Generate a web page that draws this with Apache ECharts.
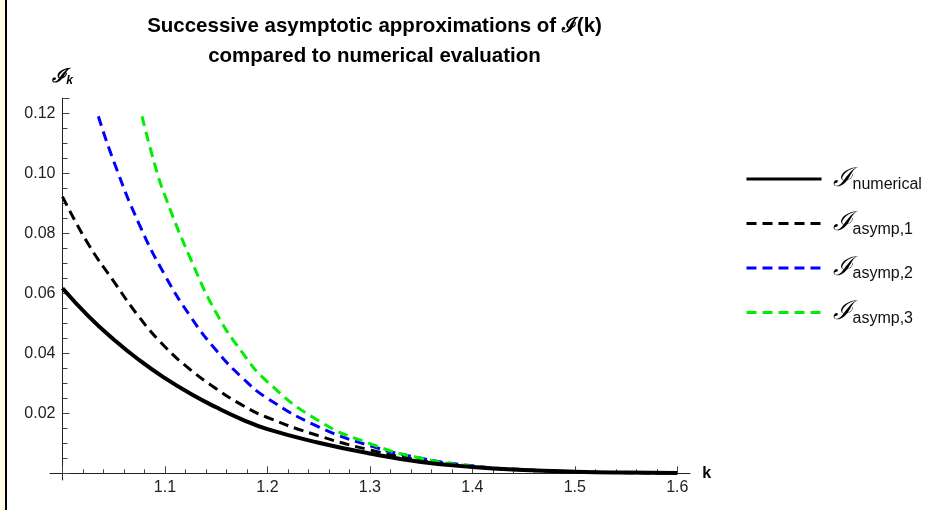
<!DOCTYPE html>
<html>
<head>
<meta charset="utf-8">
<script src="https://cdn.jsdelivr.net/npm/echarts@6/dist/echarts.min.js"></script>
<style>
html,body{margin:0;padding:0;background:#fff;}
#c{width:928px;height:510px;}
</style>
</head>
<body>
<div id="c"></div>
<script>
// ---- data ----
const titleLine1 = 'Successive asymptotic approximations of ℐ(k)';
const titleLine2 = 'compared to numerical evaluation';
const xTicks = [1.1, 1.2, 1.3, 1.4, 1.5, 1.6];
const yTicks = [0.02, 0.04, 0.06, 0.08, 0.10, 0.12];

const kGrid = [1.0, 1.025, 1.05, 1.075, 1.1, 1.125, 1.15, 1.175, 1.2, 1.25, 1.3, 1.35, 1.4, 1.45, 1.5, 1.55, 1.6];
const numerical = [0.0617, 0.0525, 0.0446, 0.0377, 0.0317, 0.0265, 0.0220, 0.0180, 0.0147, 0.0102, 0.0066, 0.0038, 0.0021, 0.0011, 0.00055, 0.00025, 0.0001];
const asymp1 = [0.0922, 0.0765, 0.0640, 0.0520, 0.0422, 0.0345, 0.0282, 0.0228, 0.0186, 0.0125, 0.0078, 0.0043, 0.0022, 0.0011, 0.0005, 0.0002, 0.0001];

const kAsymp2 = [1.035, 1.05, 1.075, 1.1, 1.125, 1.15, 1.175, 1.2, 1.25, 1.3, 1.35, 1.4, 1.45, 1.5, 1.55, 1.6];
const asymp2 = [0.119, 0.104, 0.0829, 0.0660, 0.0522, 0.0410, 0.0320, 0.0250, 0.0155, 0.0092, 0.0050, 0.0025, 0.0012, 0.0005, 0.0002, 0.0001];

const kAsymp3 = [1.0776, 1.09, 1.1, 1.125, 1.15, 1.175, 1.2, 1.25, 1.3, 1.35, 1.4, 1.45, 1.5, 1.55, 1.6];
const asymp3 = [0.119, 0.103, 0.0925, 0.0715, 0.0535, 0.0405, 0.0305, 0.0175, 0.0099, 0.0050, 0.0024, 0.0012, 0.0005, 0.0002, 0.0001];

const seriesNames = ['numerical', 'asymp,1', 'asymp,2', 'asymp,3'];
const seriesColors = ['#000000', '#000000', '#0000ff', '#00ee00'];

// ---- chart ----
const pairs = (xs, ys) => xs.map((x, i) => [x, ys[i]]);
const chart = echarts.init(document.getElementById('c'), null, {renderer: 'canvas'});
const font = 'Liberation Sans, Arial, sans-serif';
const scriptFont = 'DejaVu Serif, serif';

const GL = 62.5, GR = 928 - 677.3, GT = 98.3, GB = 510 - 473.3;

const lineSeries = (name, xs, ys, color, type, width, z) => ({
  name: name, type: 'line', xAxisIndex: 0, yAxisIndex: 0,
  data: pairs(xs, ys), showSymbol: false, symbol: 'none',
  smooth: 0.5, z: z,
  lineStyle: {color: color, width: width, type: type, cap: 'butt'},
  itemStyle: {color: color},
  emphasis: {disabled: true}
});

chart.setOption({
  animation: false,
  backgroundColor: '#ffffff',
  title: {
    text: titleLine1 + '\n' + titleLine2,
    left: 369.5, top: 6, textAlign: 'center',
    textStyle: {fontFamily: font, fontWeight: 'bold', fontSize: 20.5, color: '#000', lineHeight: 30}
  },
  legend: {
    orient: 'vertical', left: 745, top: 166, padding: 0,
    itemWidth: 75, itemHeight: 12, itemGap: 17.5,
    itemStyle: {opacity: 0},
    lineStyle: {width: 3},
    data: seriesNames,
    formatter: n => '{i|ℐ}{s|' + n + '}',
    textStyle: {
      rich: {
        i: {fontFamily: scriptFont, fontStyle: 'italic', fontSize: 26, color: '#000', padding: [0, 0, 0, 6]},
        s: {fontFamily: font, fontSize: 16, color: '#111', padding: [12, 0, 0, 1]}
      }
    }
  },
  grid: [
    {left: GL, right: GR, top: GT, bottom: GB},
    {left: 50, right: 928 - 690, top: GT, bottom: GB},
    {left: GL, width: 20, top: GT, bottom: 510 - 480}
  ],
  xAxis: [
    {
      gridIndex: 0, type: 'value', min: 1.0, max: 1.6, interval: 0.1,
      name: 'k', nameLocation: 'end', nameGap: 25,
      nameTextStyle: {fontFamily: font, fontWeight: 'bold', fontSize: 16, color: '#000', verticalAlign: 'middle'},
      axisLine: {show: true, onZero: false, lineStyle: {color: '#222', width: 1}},
      axisTick: {show: true, inside: true, length: 7, lineStyle: {color: '#444'}},
      minorTick: {show: true, splitNumber: 5, length: 4, lineStyle: {color: '#444'}},
      splitLine: {show: false},
      axisLabel: {show: true, showMinLabel: false, margin: 6, fontFamily: font, fontSize: 16, color: '#222',
        formatter: v => v.toFixed(1)}
    },
    {
      gridIndex: 1, type: 'value', min: 0, max: 1,
      axisLine: {show: true, onZero: false, lineStyle: {color: '#222', width: 1}},
      axisTick: {show: false}, axisLabel: {show: false}, splitLine: {show: false}
    },
    {
      gridIndex: 2, type: 'value', min: 0, max: 1, show: false
    }
  ],
  yAxis: [
    {
      gridIndex: 0, type: 'value', min: 0, max: 0.125, interval: 0.02,
      name: '{i|ℐ}{k|k}', nameLocation: 'end', nameGap: 12,
      nameTextStyle: {
        rich: {
          i: {fontFamily: scriptFont, fontStyle: 'italic', fontWeight: 'bold', fontSize: 19, color: '#000'},
          k: {fontFamily: font, fontStyle: 'italic', fontWeight: 'bold', fontSize: 12, color: '#000', padding: [7, 0, 0, 0]}
        }
      },
      axisLine: {show: true, onZero: false, lineStyle: {color: '#222', width: 1}},
      axisTick: {show: true, inside: true, length: 7, lineStyle: {color: '#444'}},
      minorTick: {show: true, splitNumber: 4, length: 5, lineStyle: {color: '#444'}},
      splitLine: {show: false},
      axisLabel: {show: true, showMinLabel: false, margin: 7, fontFamily: font, fontSize: 16, color: '#222',
        formatter: v => v.toFixed(2)}
    },
    {
      gridIndex: 1, type: 'value', min: 0, max: 1, show: false
    },
    {
      gridIndex: 2, type: 'value', min: 0, max: 1,
      axisLine: {show: true, onZero: false, lineStyle: {color: '#222', width: 1}},
      axisTick: {show: false}, axisLabel: {show: false}, splitLine: {show: false}
    }
  ],
  series: [
    lineSeries(seriesNames[1], kGrid, asymp1, seriesColors[1], [10, 6], 3, 3),
    lineSeries(seriesNames[2], kAsymp2, asymp2, seriesColors[2], [10, 6], 3, 4),
    lineSeries(seriesNames[3], kAsymp3, asymp3, seriesColors[3], [10, 6], 3, 5),
    lineSeries(seriesNames[0], kGrid, numerical, seriesColors[0], 'solid', 4, 6)
  ],
  graphic: [
    {type: 'rect', left: 0, top: 0, shape: {width: 5, height: 510}, style: {fill: '#fffde4'}, silent: true},
    {type: 'rect', left: 5, top: 0, shape: {width: 2, height: 510}, style: {fill: '#000'}, silent: true}
  ]
});
</script>
</body>
</html>
